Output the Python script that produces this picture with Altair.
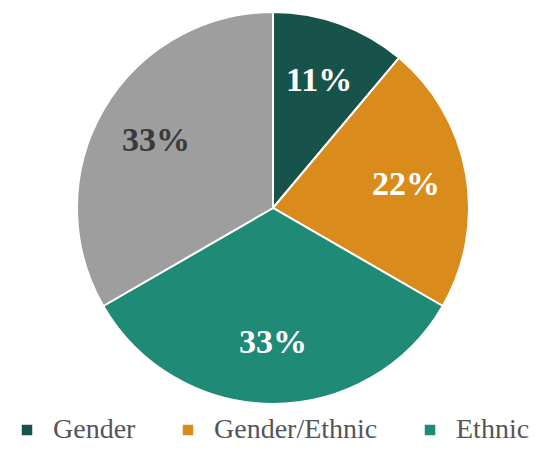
import altair as alt
import pandas as pd

categories = ["Gender", "Gender/Ethnic", "Ethnic", "Other"]
counts = [1, 2, 3, 3]
labels = ["11%", "22%", "33%", "33%"]
order = [0, 1, 2, 3]
colors = ["#17534a", "#d98c1c", "#1f8a76", "#9e9e9e"]
legend_items = ["Gender", "Gender/Ethnic", "Ethnic"]

df = pd.DataFrame({"category": categories, "count": counts, "label": labels, "ord": order})

base = alt.Chart(df).encode(
    theta=alt.Theta("count:Q", stack=True),
    order=alt.Order("ord:Q"),
)

pie = base.mark_arc(stroke="white", strokeWidth=2).encode(
    color=alt.Color(
        "category:N",
        scale=alt.Scale(domain=categories, range=colors),
        sort=categories,
        legend=alt.Legend(
            values=legend_items,
            orient="bottom",
            direction="horizontal",
            title=None,
            labelFont="Liberation Serif",
            labelFontSize=28,
            labelColor="#555555",
            labelLimit=0,
            symbolType="square",
            symbolSize=110,
            symbolStrokeWidth=0,
            columnPadding=38,
            labelOffset=12,
            offset=12,
        ),
    )
)

text = base.mark_text(
    radius=135, font="Liberation Serif", fontSize=34, fontWeight="bold"
).encode(
    text="label:N",
    color=alt.condition(alt.datum.category == "Other", alt.value("#3a3a3a"), alt.value("#ffffff")),
)

chart = (
    alt.layer(pie, text)
    .properties(
        width=525,
        height=436,
        padding={"top": 0, "left": 5, "right": 0, "bottom": 0},
        autosize=alt.AutoSizeParams(type="fit", contains="padding"),
    )
    .configure(font="Liberation Serif")
    .configure_view(stroke=None)
)

chart.save("out.html", embed_options={"renderer": "svg", "actions": False})
